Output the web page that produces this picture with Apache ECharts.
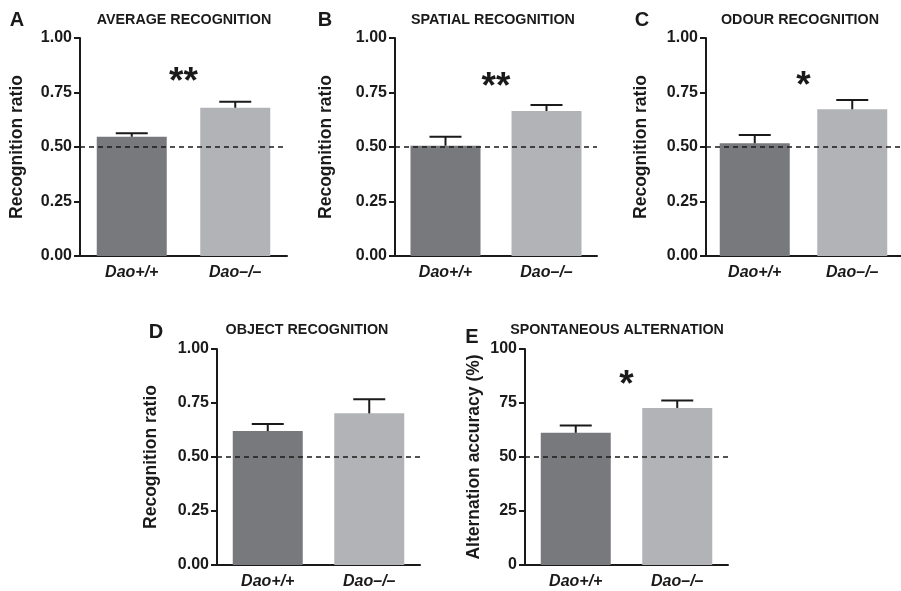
<!DOCTYPE html>
<html><head><meta charset="utf-8">
<script src="https://cdn.jsdelivr.net/npm/echarts@6/dist/echarts.min.js"></script>
<style>html,body{margin:0;padding:0;background:#fff}#c{width:901px;height:591px}</style>
</head><body><div id="c"></div>
<script>
// ---- data ----
const categories = ['Dao+/+', 'Dao\u2013/\u2013'];
const panelLetters = ['A', 'B', 'C', 'D', 'E'];
const panelTitles = ['AVERAGE RECOGNITION', 'SPATIAL RECOGNITION', 'ODOUR RECOGNITION', 'OBJECT RECOGNITION', 'SPONTANEOUS ALTERNATION'];
const yAxisNames = ['Recognition ratio', 'Recognition ratio', 'Recognition ratio', 'Recognition ratio', 'Alternation accuracy (%)'];
const meanWT = [0.547, 0.506, 0.517, 0.620, 61.2];
const meanKO = [0.680, 0.665, 0.673, 0.702, 72.7];
const semWT = [0.016, 0.041, 0.038, 0.033, 3.4];
const semKO = [0.028, 0.028, 0.043, 0.065, 3.5];
const sigMarks = ['**', '**', '*', '', '*'];
const sigLevel = [0.795, 0.77, 0.775, 0, 83];
const chanceLevel = [0.5, 0.5, 0.5, 0.5, 50];
const yMax = [1, 1, 1, 1, 100];
const yStep = [0.25, 0.25, 0.25, 0.25, 25];
const yDecimals = [2, 2, 2, 2, 0];

// ---- layout ----
const FONT = "'Liberation Sans', Arial, Helvetica, sans-serif";
const grids = [
  {left: 80, top: 38, width: 207, height: 218},
  {left: 395, top: 38, width: 202, height: 218},
  {left: 706, top: 38, width: 204, height: 218},
  {left: 217, top: 349, width: 203, height: 216},
  {left: 525, top: 349, width: 203, height: 216}
];
const nameGaps = [54, 60, 56, 57, 42];
const titlePos = [[184, 20], [493, 20], [800, 20], [307, 330], [617, 330]];
const letterPos = [[17, 20], [325, 20], [642, 20], [156, 332], [472, 337]];
const barColors = ['#78797d', '#b2b3b7'];
const INK = '#1a1a1a';

const chart = echarts.init(document.getElementById('c'), null, {renderer: 'canvas'});

const xAxis = [], yAxis = [], series = [], graphic = [];
grids.forEach((g, i) => {
  xAxis.push({
    type: 'category', gridIndex: i, data: categories,
    axisLine: {lineStyle: {color: INK, width: 2}},
    axisTick: {alignWithLabel: true, length: 6, lineStyle: {color: INK, width: 2}},
    axisLabel: {color: INK, fontFamily: FONT, fontSize: 16, fontWeight: 'bold', fontStyle: 'italic', margin: 9}
  });
  yAxis.push({
    type: 'value', gridIndex: i, min: 0, max: yMax[i], interval: yStep[i],
    splitLine: {show: false},
    axisLine: {show: true, lineStyle: {color: INK, width: 2}},
    axisTick: {show: true, length: 6, lineStyle: {color: INK, width: 2}},
    axisLabel: {color: INK, fontFamily: FONT, fontSize: 16, fontWeight: 'bold', margin: 8,
      formatter: v => v.toFixed(yDecimals[i])},
    name: yAxisNames[i], nameLocation: 'middle', nameRotate: 90, nameGap: nameGaps[i],
    nameTextStyle: {color: INK, fontFamily: FONT, fontSize: 17.5, fontWeight: 'bold'}
  });
  series.push({
    type: 'bar', xAxisIndex: i, yAxisIndex: i, barWidth: 70,
    data: [
      {value: meanWT[i], itemStyle: {color: barColors[0]}},
      {value: meanKO[i], itemStyle: {color: barColors[1]}}
    ],
    markLine: {
      silent: true, symbol: 'none', label: {show: false},
      lineStyle: {color: INK, type: [5, 4], width: 1.6},
      data: [{yAxis: chanceLevel[i]}]
    },
    z: 2
  });
  series.push({
    type: 'custom', xAxisIndex: i, yAxisIndex: i, z: 3,
    data: [[0, meanWT[i], meanWT[i] + semWT[i]], [1, meanKO[i], meanKO[i] + semKO[i]]],
    renderItem: (params, api) => {
      const base = api.coord([api.value(0), api.value(1)]);
      const top = api.coord([api.value(0), api.value(2)]);
      const st = {stroke: INK, lineWidth: 2};
      return {type: 'group', children: [
        {type: 'line', shape: {x1: base[0], y1: base[1], x2: base[0], y2: top[1]}, style: st},
        {type: 'line', shape: {x1: base[0] - 16, y1: top[1], x2: base[0] + 16, y2: top[1]}, style: st}
      ]};
    }
  });
  if (sigMarks[i]) {
    series.push({
      type: 'custom', xAxisIndex: i, yAxisIndex: i, z: 4,
      data: [[0, sigLevel[i]]],
      renderItem: (params, api) => {
        const p0 = api.coord([0, api.value(1)]);
        const p1 = api.coord([1, api.value(1)]);
        return {type: 'text', style: {
          text: sigMarks[i], x: (p0[0] + p1[0]) / 2, y: p0[1],
          textAlign: 'center', textVerticalAlign: 'middle',
          font: 'bold 37px ' + FONT, fill: INK
        }};
      }
    });
  }
  graphic.push({type: 'text', x: titlePos[i][0], y: titlePos[i][1],
    style: {text: panelTitles[i], font: 'bold 14.3px ' + FONT, fill: INK, textAlign: 'center', textVerticalAlign: 'middle'}});
  graphic.push({type: 'text', x: letterPos[i][0], y: letterPos[i][1],
    style: {text: panelLetters[i], font: 'bold 20px ' + FONT, fill: INK, textAlign: 'center', textVerticalAlign: 'middle'}});
});

chart.setOption({
  animation: false,
  grid: grids.map(g => Object.assign({containLabel: false}, g)),
  xAxis, yAxis, series, graphic
});
</script></body></html>
